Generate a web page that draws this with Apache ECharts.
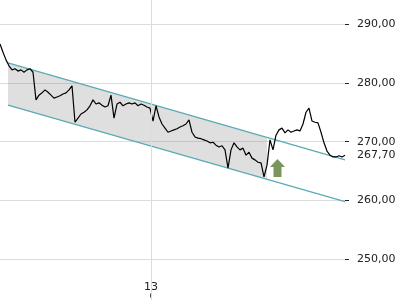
<!DOCTYPE html>
<html>
<head>
<meta charset="utf-8">
<script src="https://cdn.jsdelivr.net/npm/echarts@6/dist/echarts.min.js"></script>
<style>html,body{margin:0;padding:0;background:#fff}#c{width:400px;height:300px}</style>
</head>
<body>
<div id="c"></div>
<script>
// price series (x = time index, y = price)
var prices = [
286.6,285.2,283.9,282.9,282.2,282.4,282.0,282.2,281.8,282.2,
282.4,281.8,277.1,277.9,278.3,278.8,278.4,277.9,277.4,277.6,
277.8,278.1,278.3,278.8,279.5,273.3,274.0,274.7,275.0,275.4,
276.1,277.1,276.4,276.6,276.2,275.9,276.1,277.9,274.0,276.4,
276.7,276.1,276.4,276.6,276.4,276.6,276.1,276.4,276.2,275.9,
275.7,273.5,276.1,274.2,273.0,272.3,271.6,271.8,272.0,272.2,
272.5,272.7,273.0,273.7,271.6,270.8,270.6,270.5,270.3,270.1,
269.8,269.9,269.4,269.1,269.3,268.6,265.5,268.6,269.8,269.1,
268.6,268.9,267.7,268.2,267.2,266.9,266.5,266.4,264.0,266.0,
270.3,268.6,271.1,272.0,272.3,271.5,272.0,271.6,271.8,272.0,
271.8,273.0,275.0,275.7,273.5,273.3,273.2,271.6,269.8,268.4,
267.7,267.4,267.4,267.6,267.4,267.7
];
// trend channel: [x, price]
var channelUpper = [[2.67, 283.4], [115, 266.9]];
var channelLower = [[2.67, 276.2], [115, 259.8]];
var channelFillEnd = 89;
// signal arrow
var arrowPoint = [[92.5, 265.5]];
// axis ticks / labels
var yTicks = [250, 260, 270, 280, 290];
var lastPrice = 267.70;
var xTickValues = [50.3];
var xTickLabels = ['13'];
var xTickMarkLevel = 243.85; // price level where the small x tick sits (bottom strip)

var priceData = prices.map(function (v, i) { return [i, v]; });
function lerp(line, x) {
  var a = line[0], b = line[1];
  return a[1] + (b[1] - a[1]) * (x - a[0]) / (b[0] - a[0]);
}
var fillPoly = [
  [channelUpper[0][0], channelUpper[0][1]],
  [channelFillEnd, lerp(channelUpper, channelFillEnd)],
  [channelFillEnd, lerp(channelLower, channelFillEnd)],
  [channelLower[0][0], channelLower[0][1]]
];
function fmt(v) { return v.toFixed(2).replace('.', ','); }

var chart = echarts.init(document.getElementById('c'), null, {renderer: 'canvas'});
var font = 'DejaVu Sans';
chart.setOption({
  animation: false,
  backgroundColor: '#ffffff',
  grid: {left: 0, right: 55, top: -34.8, height: 352.9, containLabel: false, outerBoundsMode: 'none'},
  xAxis: {
    type: 'value', min: 0, max: 115,
    offset: -24,
    axisLine: {show: false, onZero: false},
    splitLine: {show: false},
    axisTick: {show: false},
    axisLabel: {show: true, inside: true, margin: 1, customValues: xTickValues,
      fontFamily: font, fontSize: 11, color: '#222',
      formatter: function (v) { var k = xTickValues.indexOf(v); return k >= 0 ? xTickLabels[k] : ''; }}
  },
  yAxis: {
    type: 'value', position: 'right', min: 240, max: 300, interval: 10,
    axisLine: {show: false, onZero: false},
    axisTick: {show: true, length: 4, lineStyle: {color: '#222'}},
    splitLine: {show: true, lineStyle: {color: '#dcdcdc', width: 1}},
    axisLabel: {margin: 12, fontFamily: font, fontSize: 11, color: '#222',
      formatter: function (v) { return yTicks.indexOf(v) >= 0 ? fmt(v) : ''; }}
  },
  series: [
    {
      type: 'custom', silent: true, z: 1,
      data: [0],
      renderItem: function (params, api) {
        var pts = fillPoly.map(function (p) { return api.coord(p); });
        return {type: 'polygon', shape: {points: pts}, style: {fill: 'rgba(120,120,120,0.24)'}};
      }
    },
    {
      type: 'line', data: [], silent: true, z: 0,
      markLine: {
        silent: true, symbol: 'none', label: {show: false},
        lineStyle: {color: '#dcdcdc', width: 1, type: 'solid'},
        data: xTickValues.map(function (v) { return {xAxis: v}; })
      }
    },
    {
      type: 'scatter', silent: true, z: 2,
      data: xTickValues.map(function (v) { return [v, xTickMarkLevel]; }),
      symbol: 'rect', symbolSize: [1.6, 4],
      itemStyle: {color: '#111'}
    },
    {
      type: 'line', data: channelUpper, symbol: 'none', z: 3,
      lineStyle: {color: '#5aaab4', width: 1.2}
    },
    {
      type: 'line', data: channelLower, symbol: 'none', z: 3,
      lineStyle: {color: '#5aaab4', width: 1.2}
    },
    {
      type: 'line', data: priceData, symbol: 'none', z: 4,
      lineStyle: {color: '#000', width: 1.2}
    },
    {
      type: 'line', data: [], silent: true, z: 4,
      markLine: {
        silent: true, symbol: 'none',
        lineStyle: {color: 'rgba(0,0,0,0)', width: 1, type: 'solid'},
        label: {show: true, position: 'end', distance: 12, fontFamily: font, fontSize: 11, color: '#222',
          formatter: function () { return fmt(lastPrice); }},
        data: [{yAxis: lastPrice}]
      }
    },
    {
      type: 'scatter', data: arrowPoint, z: 5,
      symbol: 'path://M7.5,0 L15,8 L11.5,8 L11.5,18 L3.5,18 L3.5,8 L0,8 Z',
      symbolSize: [15, 18],
      itemStyle: {color: '#5b7a36'}
    }
  ]
});
</script>
</body>
</html>
